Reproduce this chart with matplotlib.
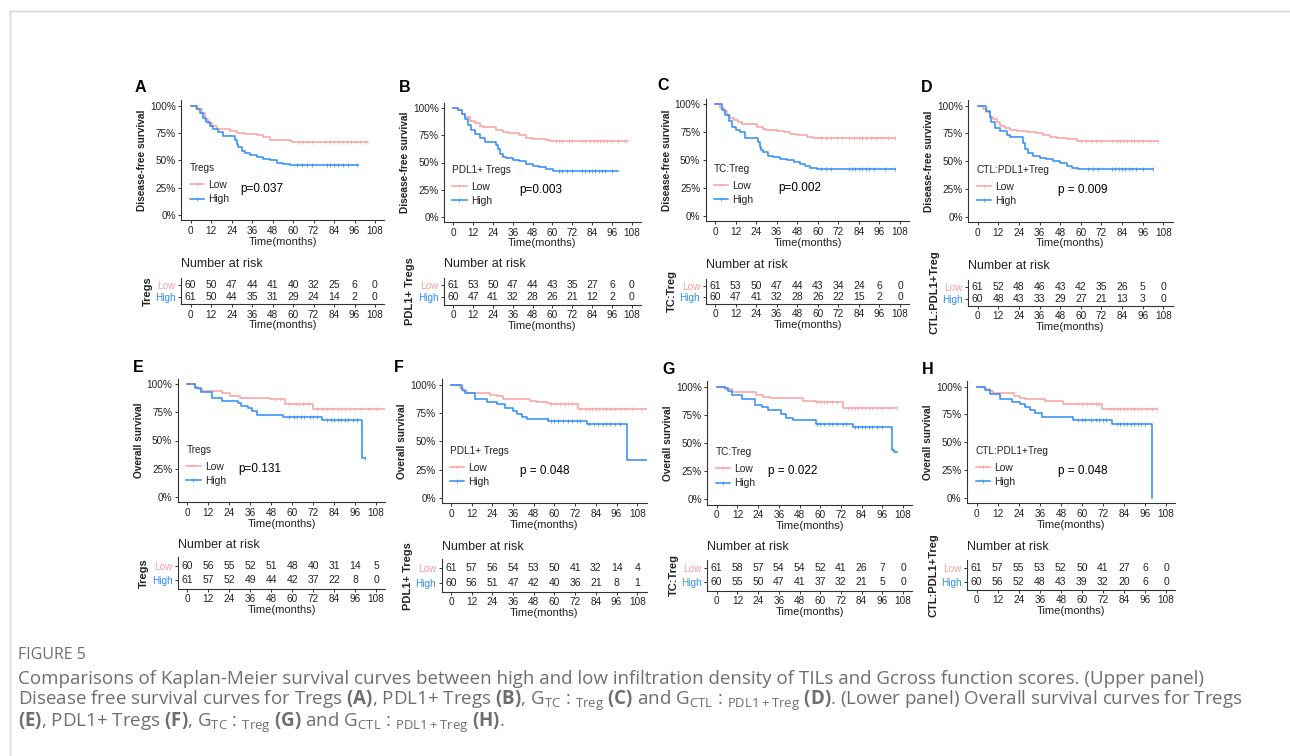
import numpy as np
import matplotlib
matplotlib.use("Agg")
import matplotlib.pyplot as plt
from matplotlib.lines import Line2D

plt.rcParams['font.family'] = ['Liberation Sans', 'DejaVu Sans']
plt.rcParams['mathtext.fontset'] = 'custom'
plt.rcParams['mathtext.rm'] = 'Open Sans'
plt.rcParams['mathtext.bf'] = 'Open Sans:bold'

LOW_COL = "#F9A0A0"
HIGH_COL = "#2D8CF5"

# ---- data (months, survival fraction) ----
risk_times = [0, 12, 24, 36, 48, 60, 72, 84, 96, 108]

# A: DFS, Tregs
A_low_t = [0, 3, 6.4, 8.4, 10.4, 12.3, 15.2, 23, 27, 31.8, 38.7, 42.6, 46.5, 58, 59.5, 104]
A_low_s = [1, .97, .93, .88, .84, .81, .79, .77, .75, .74, .73, .71, .69, .68, .665, .665]
A_low_cens = [63, 65.6, 68, 71, 78.7, 81.6, 84, 86.5, 89.4, 91.4, 93.7, 96.3, 99.2, 103]
A_high_t = [0, 3.5, 5.5, 7.4, 9, 11.3, 13.3, 16, 19, 26, 27, 28, 30, 32, 34.8, 38.7, 42.6, 46.5, 50.4, 54.3, 58.2, 98]
A_high_s = [1, .97, .93, .89, .85, .81, .79, .76, .726, .69, .65, .62, .59, .57, .55, .53, .51, .50, .48, .47, .455, .455]
A_high_cens = [62, 65, 68, 71, 79.7, 81.6, 84, 86.5, 89.4, 92.4, 97.3]
A_risk_low = [60, 50, 47, 44, 41, 40, 32, 25, 6, 0]
A_risk_high = [61, 50, 44, 35, 31, 29, 24, 14, 2, 0]

# B: DFS, PDL1+ Tregs
B_low_t = [0, 3, 5, 7, 10, 13, 16, 18, 26, 30, 34, 40, 44, 48, 56, 58.5, 106]
B_low_s = [1, .98, .95, .92, .88, .86, .84, .825, .80, .78, .77, .75, .73, .72, .71, .70, .70]
B_low_cens = [62, 64, 66, 70, 72, 78, 80, 83, 85, 87, 89, 91, 93, 96, 100, 104]
B_high_t = [0, 3, 5, 7, 9, 11, 13, 16, 19, 26, 27, 28, 30, 32, 36, 40, 44, 48, 52, 56, 60.5, 100]
B_high_s = [1, .98, .95, .90, .85, .80, .76, .73, .69, .66, .62, .58, .555, .54, .52, .51, .49, .47, .46, .44, .42, .42]
B_high_cens = [64, 66, 69, 72, 78, 80, 82, 84, 86, 88, 90, 92, 96]
B_risk_low = [61, 53, 50, 47, 44, 43, 35, 27, 6, 0]
B_risk_high = [60, 47, 41, 32, 28, 26, 21, 12, 2, 0]

# C: DFS, TC:Treg
C_low_t = [0, 3, 5, 7, 9, 11, 13.6, 15.6, 24.3, 28, 30, 36, 40, 44, 48, 53.5, 57, 105]
C_low_s = [1, .97, .94, .90, .88, .86, .84, .826, .80, .78, .77, .76, .75, .73, .72, .71, .70, .70]
C_low_cens = [62, 65, 68, 71, 74, 78, 81, 84, 86, 88, 91, 94, 97, 101, 105]
C_high_t = [0, 4, 6, 8, 10, 12, 14.6, 17.5, 25, 26, 27, 28, 31, 34, 38, 42, 46, 49.6, 52.5, 55.5, 59.3, 105]
C_high_s = [1, .95, .90, .85, .80, .77, .75, .70, .66, .62, .59, .57, .54, .53, .51, .50, .48, .46, .45, .43, .42, .42]
C_high_cens = [62, 65, 68, 78, 80, 82, 84, 86, 88, 90, 93, 99, 105]
C_risk_low = [61, 53, 50, 47, 44, 43, 34, 24, 6, 0]
C_risk_high = [60, 47, 41, 32, 28, 26, 22, 15, 2, 0]

# D: DFS, CTL:PDL1+Treg
D_low_t = [0, 3.3, 5, 7, 9, 11, 13, 16, 19, 22.7, 28.5, 34, 38, 42, 46, 52, 57.6, 105]
D_low_s = [1, .97, .94, .90, .88, .85, .82, .80, .78, .77, .76, .75, .74, .72, .71, .70, .68, .68]
D_low_cens = [60, 63, 66, 69, 72, 78, 81, 83, 85, 87, 89, 91, 93, 96, 100, 105]
D_high_t = [0, 5, 7, 8, 10, 13, 17, 19, 26.5, 27.5, 29.5, 32.4, 36, 40, 44, 48, 52, 54.7, 58.5, 102]
D_high_s = [1, .95, .90, .85, .80, .77, .74, .72, .66, .61, .57, .55, .53, .52, .50, .48, .46, .44, .43, .43]
D_high_cens = [64, 67, 70, 78, 80, 82, 84, 86, 88, 90, 92, 96, 102]
D_risk_low = [61, 52, 48, 46, 43, 42, 35, 26, 5, 0]
D_risk_high = [60, 48, 43, 33, 29, 27, 21, 13, 3, 0]

# E: OS, Tregs
E_low_t = [0, 4.4, 6.3, 8.2, 19.7, 24.4, 30, 47.3, 56, 72, 114]
E_low_s = [1, .98, .96, .944, .92, .90, .875, .865, .825, .78, .78]
E_low_cens = [50, 53, 58, 62, 64, 66, 69, 74, 77, 80, 83, 86, 88, 90, 93, 96, 99, 104, 108]
E_high_t = [0, 4.4, 7.6, 14, 19.7, 29, 31, 35, 37, 39.7, 55, 77, 100.2, 101.7]
E_high_s = [1, .97, .93, .88, .85, .83, .81, .79, .76, .727, .705, .685, .345, .345]
E_high_cens = [58, 61, 63, 65, 67, 70, 72, 74, 80, 82, 84, 86, 88, 90, 92, 95, 97, 101.7]
E_risk_low = [60, 56, 55, 52, 51, 48, 40, 31, 14, 5]
E_risk_high = [61, 57, 52, 49, 44, 42, 37, 22, 8, 0]

# F: OS, PDL1+ Tregs
F_low_t = [0, 5.2, 7.1, 9, 22.6, 26.5, 30, 45.8, 49.7, 55.4, 57.4, 73.8, 114]
F_low_s = [1, .97, .95, .93, .91, .90, .88, .86, .85, .84, .83, .79, .79]
F_low_cens = [58, 61, 63, 66, 68, 70, 75, 78, 80, 82, 84, 86, 88, 90, 92, 95, 98, 101, 105, 110]
F_high_t = [0, 6.2, 8.1, 13.9, 20.7, 26.5, 31.3, 36, 38, 41, 43.9, 56.4, 78.6, 102.2, 114]
F_high_s = [1, .96, .93, .88, .85, .83, .80, .77, .74, .72, .70, .685, .654, .334, .334]
F_high_cens = [56, 58, 60, 62, 65, 68, 70, 73, 75, 80, 83, 85, 88, 90, 92, 95, 98]
F_risk_low = [61, 57, 56, 54, 53, 50, 41, 32, 14, 4]
F_risk_high = [60, 56, 51, 47, 42, 40, 36, 21, 8, 1]

# G: OS, TC:Treg
G_low_t = [0, 4.8, 8.7, 23, 27, 30.8, 50, 57.7, 73, 104.8]
G_low_s = [1, .98, .955, .93, .91, .895, .875, .86, .81, .81]
G_low_cens = [58, 60, 62, 64, 67, 70, 76, 78, 80, 82, 84, 86, 88, 90, 93, 96, 100, 104.8]
G_high_t = [0, 4.8, 6.7, 8.7, 14.4, 22, 26, 29.8, 37.5, 40.4, 44.2, 57.7, 78.8, 101.4, 103, 104.8]
G_high_s = [1, .99, .96, .926, .887, .84, .82, .79, .754, .72, .70, .67, .645, .44, .42, .42]
G_high_cens = [58, 60, 62, 65, 67, 70, 73, 75, 80, 82, 84, 86, 88, 90, 93, 96]
G_risk_low = [61, 58, 57, 54, 54, 52, 41, 26, 7, 0]
G_risk_high = [60, 55, 50, 47, 41, 37, 32, 21, 5, 0]

# H: OS, CTL:PDL1+Treg
H_low_t = [0, 4.8, 7.6, 9.5, 21, 24.7, 27.6, 39, 49.4, 71.3, 102.7]
H_low_s = [1, .98, .96, .945, .92, .90, .886, .87, .844, .80, .80]
H_low_cens = [58, 60, 63, 66, 68, 70, 76, 78, 80, 82, 84, 86, 88, 90, 92, 94, 97, 100, 102.7]
H_high_t = [0, 4.8, 7.6, 13.3, 20, 24.7, 27.6, 30.4, 33.3, 37, 55, 77, 99.8]
H_high_s = [1, .97, .93, .885, .86, .84, .82, .79, .76, .73, .70, .66, 0]
H_high_cens = [58, 60, 62, 65, 68, 70, 72, 74, 80, 82, 84, 86, 88, 90, 92, 94, 96]
H_risk_low = [61, 57, 55, 53, 52, 50, 41, 27, 6, 0]
H_risk_high = [60, 56, 52, 48, 43, 39, 32, 20, 6, 0]

letters = ["A", "B", "C", "D", "E", "F", "G", "H"]
groups = ["Tregs", "PDL1+ Tregs", "TC:Treg", "CTL:PDL1+Treg"] * 2
ylabels = ["Disease-free survival"] * 4 + ["Overall survival"] * 4
pvalues = ["p=0.037", "p=0.003", "p=0.002", "p = 0.009",
           "p=0.131", "p = 0.048", "p = 0.022", "p = 0.048"]

curves = [
    ((A_low_t, A_low_s, A_low_cens), (A_high_t, A_high_s, A_high_cens), (A_risk_low, A_risk_high)),
    ((B_low_t, B_low_s, B_low_cens), (B_high_t, B_high_s, B_high_cens), (B_risk_low, B_risk_high)),
    ((C_low_t, C_low_s, C_low_cens), (C_high_t, C_high_s, C_high_cens), (C_risk_low, C_risk_high)),
    ((D_low_t, D_low_s, D_low_cens), (D_high_t, D_high_s, D_high_cens), (D_risk_low, D_risk_high)),
    ((E_low_t, E_low_s, E_low_cens), (E_high_t, E_high_s, E_high_cens), (E_risk_low, E_risk_high)),
    ((F_low_t, F_low_s, F_low_cens), (F_high_t, F_high_s, F_high_cens), (F_risk_low, F_risk_high)),
    ((G_low_t, G_low_s, G_low_cens), (G_high_t, G_high_s, G_high_cens), (G_risk_low, G_risk_high)),
    ((H_low_t, H_low_s, H_low_cens), (H_high_t, H_high_s, H_high_cens), (H_risk_low, H_risk_high)),
]

# ---- layout in pixels: x of month 0, x of month 108, y of 100%, y of 0%, y of Low row, y of High row
W, H = 1290, 756
geom = [
    (190.7, 375.0, 105.7, 215.0, 285.0, 297.0),
    (453.3, 631.7, 108.3, 216.7, 285.0, 297.3),
    (715.0, 900.0, 104.3, 215.7, 285.7, 297.0),
    (977.7, 1163.3, 105.7, 216.7, 286.7, 298.5),
    (187.3, 376.0, 384.3, 496.7, 565.7, 580.0),
    (451.0, 637.3, 385.0, 497.7, 568.3, 583.0),
    (716.7, 903.0, 386.7, 499.0, 568.3, 582.3),
    (976.7, 1166.0, 386.7, 497.7, 568.3, 581.7),
]
letter_pos = [(135, 87), (399, 87), (657, 85), (921, 87), (133, 368), (394, 368), (662, 370), (922, 370)]
p_pos = [(240, 189), (519, 190), (778, 188), (1058, 190), (238, 469), (520, 471), (768, 471), (1058, 471)]

fig = plt.figure(figsize=(W / 100, H / 100), dpi=100)
TXT = "#222222"


def style_axis(ax):
    for sp in ["top", "right"]:
        ax.spines[sp].set_visible(False)
    for sp in ["left", "bottom"]:
        ax.spines[sp].set_linewidth(0.8)
        ax.spines[sp].set_color("#333333")
    ax.tick_params(direction="out", length=2.5, width=0.7, colors="#333333",
                   labelsize=7.2, labelcolor=TXT, pad=1.5)
    ax.set_xticks(risk_times)


for i in range(8):
    x0, x108, y100, y0, ylow, yhigh = geom[i]
    low, high, risk = curves[i]
    ppm = (x108 - x0) / 108
    left, right = x0 - 5.4 * ppm, x108 + 5.4 * ppm
    ppy = y0 - y100
    top, bot = y100 - 0.05 * ppy, y0 + 0.05 * ppy

    ax = fig.add_axes([left / W, 1 - bot / H, (right - left) / W, (bot - top) / H])
    ax.set_xlim(-5.4, 113.4)
    ax.set_ylim(-0.05, 1.05)
    for (t, s, c), col in [(low, LOW_COL), (high, HIGH_COL)]:
        ax.step(t, s, where="post", color=col, lw=1.1, clip_on=True)
        cy = np.array(s)[np.searchsorted(t, c, side="right") - 1]
        ax.plot(c, cy, ls="none", marker="|", ms=2.4, mew=0.5, color=col)
    style_axis(ax)
    ax.set_yticks([0, 0.25, 0.5, 0.75, 1])
    ax.set_yticklabels(["0%", "25%", "50%", "75%", "100%"])
    ax.set_xlabel("Time(months)", fontsize=8, color=TXT, labelpad=0.5)
    ax.set_ylabel(ylabels[i], fontsize=7.3, fontweight="bold", color=TXT, labelpad=2)

    handles = [Line2D([], [], color=LOW_COL, lw=1.1, marker="|", ms=2.4, mew=0.5),
               Line2D([], [], color=HIGH_COL, lw=1.1, marker="|", ms=2.4, mew=0.5)]
    leg = ax.legend(handles, ["Low", "High"], title=groups[i], loc="upper left",
                    bbox_to_anchor=((x0 - 1) / W, 1 - (y0 - 52) / H),
                    bbox_transform=fig.transFigure, frameon=False, fontsize=7.4,
                    title_fontsize=7.2, alignment="left", borderpad=0, borderaxespad=0,
                    handlelength=1.4, handletextpad=0.4, labelspacing=0.42)
    leg.get_title().set_color(TXT)
    leg._legend_box.sep = 5
    for tx in leg.get_texts():
        tx.set_color(TXT)

    fig.text(p_pos[i][0] / W, 1 - p_pos[i][1] / H, pvalues[i], fontsize=8.5,
             color="black", va="center")
    fig.text(letter_pos[i][0] / W, 1 - letter_pos[i][1] / H, letters[i],
             fontsize=11.5, fontweight="bold", va="center")

    # risk table
    d = yhigh - ylow
    ttop, tbot = ylow - 0.6 * d, yhigh + 0.6 * d
    tax = fig.add_axes([left / W, 1 - tbot / H, (right - left) / W, (tbot - ttop) / H])
    tax.set_xlim(-5.4, 113.4)
    tax.set_ylim(0.4, 2.6)
    for k, tm in enumerate(risk_times):
        tax.text(tm, 2, str(risk[0][k]), ha="center", va="center", fontsize=7.5, color=TXT)
        tax.text(tm, 1, str(risk[1][k]), ha="center", va="center", fontsize=7.5, color=TXT)
    style_axis(tax)
    tax.set_yticks([1, 2])
    tax.set_yticklabels(["High", "Low"])
    tax.get_yticklabels()[0].set_color(HIGH_COL)
    tax.get_yticklabels()[1].set_color(LOW_COL)
    tax.set_xlabel("Time(months)", fontsize=8, color=TXT, labelpad=0.5)
    tax.set_ylabel(groups[i], fontsize=8, fontweight="bold", color=TXT, labelpad=2)
    fig.text(left / W, 1 - (ylow - 21) / H, "Number at risk", fontsize=9,
             color=TXT, va="center")

# frame lines of the page
fig.add_artist(Line2D([9.5 / W, 9.5 / W], [0, 1 - 11 / H], transform=fig.transFigure,
                      color="#d4d4d4", lw=1))
fig.add_artist(Line2D([9.5 / W, 1], [1 - 11 / H, 1 - 11 / H], transform=fig.transFigure,
                      color="#d4d4d4", lw=1))

# caption
CAP = "#6e6e6e"
fig.text(18 / W, 1 - 655 / H, "FIGURE 5", family="Open Sans", fontsize=11.5, color=CAP, va="center")
cap_lines = [
    "Comparisons of Kaplan-Meier survival curves between high and low infiltration density of TILs and Gcross function scores. (Upper panel)",
    r"Disease free survival curves for Tregs $\mathbf{(A)}$, PDL1+ Tregs $\mathbf{(B)}$, G$_{\mathrm{TC}}$ : $_{\mathrm{Treg}}$ $\mathbf{(C)}$ and G$_{\mathrm{CTL}}$ : $_{\mathrm{PDL1+Treg}}$ $\mathbf{(D)}$. (Lower panel) Overall survival curves for Tregs",
    r"$\mathbf{(E)}$, PDL1+ Tregs $\mathbf{(F)}$, G$_{\mathrm{TC}}$ : $_{\mathrm{Treg}}$ $\mathbf{(G)}$ and G$_{\mathrm{CTL}}$ : $_{\mathrm{PDL1+Treg}}$ $\mathbf{(H)}$.",
]
for line, y in zip(cap_lines, [679, 701, 723]):
    fig.text(18 / W, 1 - y / H, line, family="Open Sans", fontsize=13.5, color=CAP, va="center")

fig.savefig("out.png", dpi=100)
